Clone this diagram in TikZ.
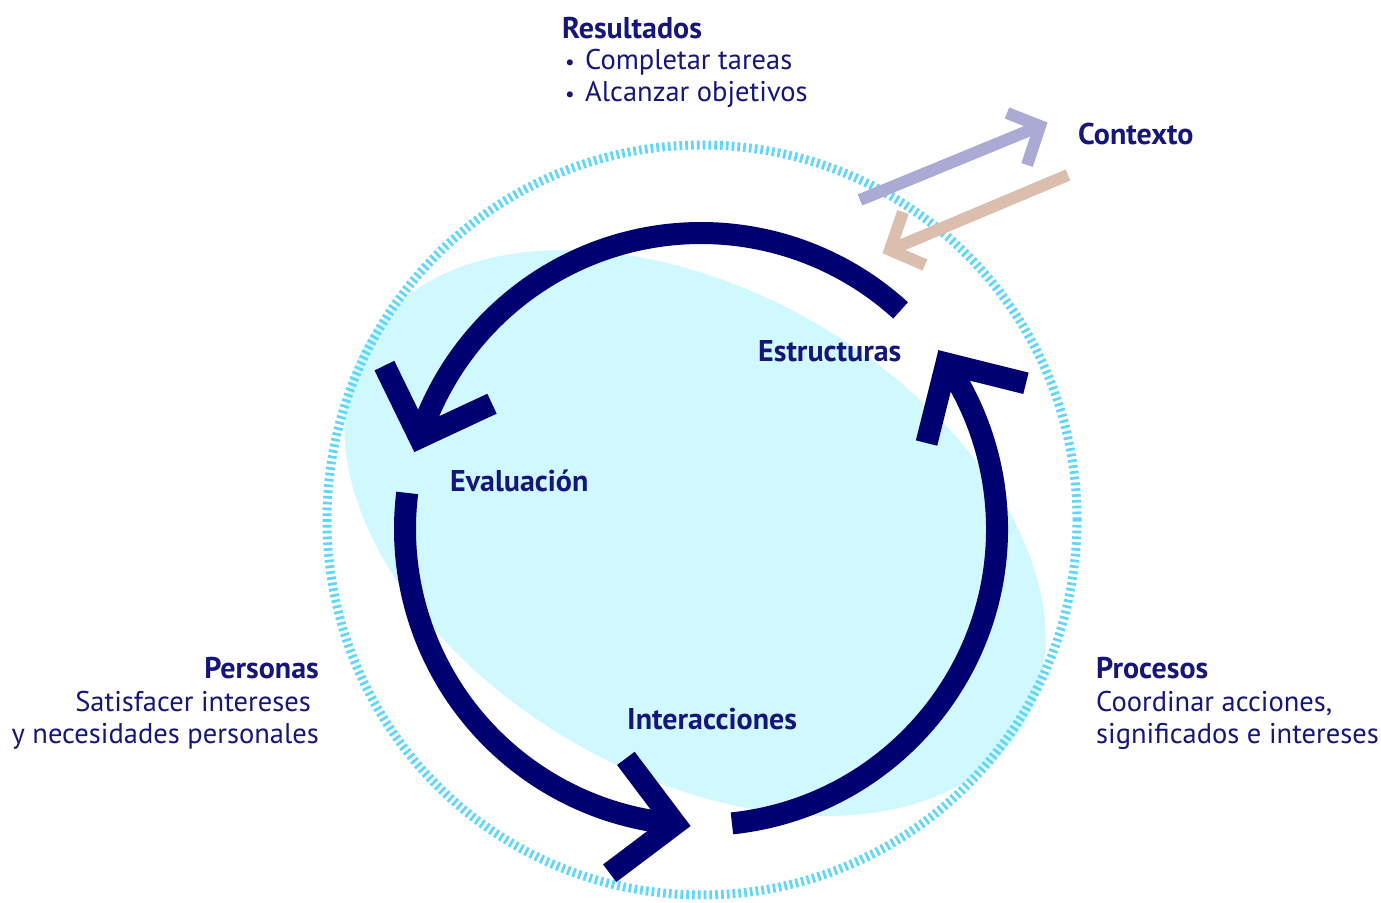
\documentclass[tikz,border=0pt]{standalone}
\usepackage{fontspec}
\setmainfont{PT Sans}
\usetikzlibrary{calc}
\definecolor{navy}{RGB}{0,0,112}
\definecolor{txt}{RGB}{22,22,122}
\definecolor{ring}{RGB}{95,215,250}
\definecolor{blob}{RGB}{208,248,255}
\definecolor{lav}{RGB}{170,170,212}
\definecolor{tanc}{RGB}{220,190,175}
\begin{document}
\begin{tikzpicture}[x=1pt,y=1pt,
  lbl/.style={font=\fontsize{30}{32}\selectfont\bfseries, text=txt, inner sep=0pt},
  txtl/.style={font=\fontsize{28.5}{32}\selectfont, text=txt, inner sep=0pt},
  cyc/.style={draw=navy, line width=22pt, line cap=butt, line join=miter, miter limit=10},
  ctx/.style={line width=12pt, line cap=butt, line join=miter, miter limit=10}]
\useasboundingbox (0,0) rectangle (1381,902);
\fill[white] (0,0) rectangle (1381,902);
% background blob and ring
\fill[blob, rotate around={-30:(695,369)}] (695,369) ellipse [x radius=380, y radius=242];
\draw[ring, line width=9pt, dash pattern=on 2.7pt off 3.1pt] (702,382) circle[radius=375];
% cycle arcs
\coordinate (C) at (701,373);
\coordinate (A1) at ($(C)+(47.6:296)$);
\coordinate (V1) at ($(C)+(162:296)$);
\coordinate (A2) at ($(C)+(173:296)$);
\coordinate (V2) at ($(C)+(265:296)$);
\coordinate (A3) at ($(C)+(276:296)$);
\coordinate (V3) at ($(C)+(34:296)$);
\draw[cyc] (A1) arc[start angle=47.6, end angle=162, radius=296];
\draw[cyc] ($(V1)+(116:80)$) -- (V1) -- ($(V1)+(25:80)$);
\draw[cyc] (A2) arc[start angle=173, end angle=265, radius=296];
\draw[cyc] ($(V2)+(127:82)$) -- (V2) -- ($(V2)+(217:82)$);
\draw[cyc] (A3) arc[start angle=276, end angle=394, radius=296];
\draw[cyc] ($(V3)+(256:82)$) -- (V3) -- ($(V3)+(346:82)$);
% context arrows
\coordinate (p0) at (860,702);
\coordinate (p1) at (1040,776);
\coordinate (pa) at (1007,789);
\coordinate (pb) at (1027,737);
\draw[ctx, lav] (p0) -- (p1);
\draw[ctx, lav] (pa) -- (p1) -- (pb);
\coordinate (t0) at (1068,727);
\coordinate (t1) at (890,652);
\coordinate (ta) at (903,690);
\coordinate (tb) at (925,637);
\draw[ctx, tanc] (t0) -- (t1);
\draw[ctx, tanc] (ta) -- (t1) -- (tb);
% texts
\node[lbl, anchor=base west] (res) at (562,863) {Resultados};
\node[txtl, anchor=base west] (res1) at (562,832) {\makebox[23pt][l]{\hspace{3pt}\scalebox{0.75}{•}}Completar tareas};
\node[txtl, anchor=base west] (res2) at (562,800) {\makebox[23pt][l]{\hspace{3pt}\scalebox{0.75}{•}}Alcanzar objetivos};
\node[lbl, anchor=base west] (ctxt) at (1078,757) {Contexto};
\node[lbl, anchor=base west] (est) at (758,540) {Estructuras};
\node[lbl, anchor=base west] (eva) at (450,410) {Evaluación};
\node[lbl, anchor=base west] (int) at (627,172) {Interacciones};
\node[lbl, anchor=base east] (per) at (319,223) {Personas};
\node[txtl, anchor=base east] (per1) at (311,190) {Satisfacer intereses};
\node[txtl, anchor=base east] (per2) at (319,158) {y necesidades personales};
\node[lbl, anchor=base west] (pro) at (1096,223) {Procesos};
\node[txtl, anchor=base west] (pro1) at (1096,190) {Coordinar acciones,};
\node[txtl, anchor=base west] (pro2) at (1096,158) {significados e intereses};
\end{tikzpicture}
\end{document}
